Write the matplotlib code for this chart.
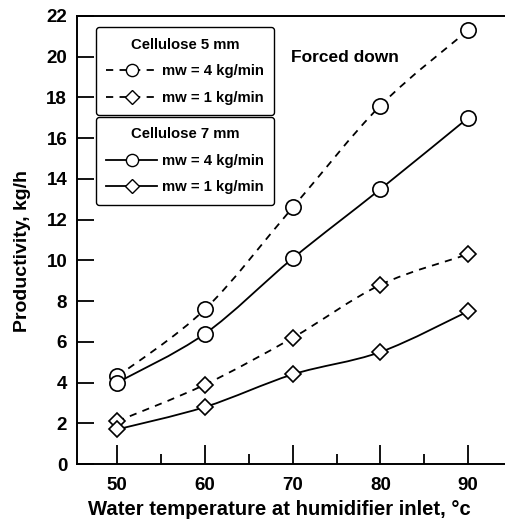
import numpy as np
import matplotlib.pyplot as plt
from matplotlib.path import Path
from matplotlib.patches import PathPatch
from matplotlib.lines import Line2D

plt.rcParams['font.family'] = ['Liberation Sans', 'DejaVu Sans']
plt.rcParams['font.weight'] = 'bold'

temperature = [50, 60, 70, 80, 90]
cel5_mw4 = [4.3, 7.6, 12.6, 17.6, 21.3]
cel5_mw1 = [2.1, 3.9, 6.2, 8.8, 10.3]
cel7_mw4 = [4.0, 6.4, 10.1, 13.5, 17.0]
cel7_mw1 = [1.7, 2.8, 4.4, 5.5, 7.5]


def smooth_path(x, y):
    # Catmull-Rom curve through the points, as cubic bezier segments
    pts = np.column_stack([x, y]).astype(float)
    verts = [pts[0]]
    codes = [Path.MOVETO]
    n = len(pts)
    for i in range(n - 1):
        p0 = pts[max(i - 1, 0)]
        p1 = pts[i]
        p2 = pts[i + 1]
        p3 = pts[min(i + 2, n - 1)]
        c1 = p1 + (p2 - p0) / 6.0
        c2 = p2 - (p3 - p1) / 6.0
        verts += [c1, c2, p2]
        codes += [Path.CURVE4] * 3
    return Path(verts, codes)


fig = plt.figure(figsize=(5.06, 5.24), dpi=100)
ax = fig.add_axes([0.152, 0.1145, 0.86, 0.855])

dash = (0, (4, 3.5))
series = [
    (cel5_mw4, dash, 'o', 11),
    (cel5_mw1, dash, 'D', 8.5),
    (cel7_mw4, '-', 'o', 11),
    (cel7_mw1, '-', 'D', 8.5),
]
handles = []
for vals, ls, mk, ms in series:
    ax.add_patch(PathPatch(smooth_path(temperature, vals), fill=False,
                           edgecolor='black', lw=1.3, linestyle=ls, zorder=2))
    ax.plot(temperature, vals, linestyle='none', marker=mk, ms=ms,
            mfc='white', mec='black', mew=1.2, zorder=3)
    handles.append(Line2D([], [], color='black', lw=1.3, linestyle=ls,
                          marker=mk, ms=ms * 0.8, mfc='white', mec='black', mew=1.0))

ax.set_xlim(45.4, 95.0)
ax.set_ylim(0, 22)
ax.set_xticks([50, 60, 70, 80, 90])
ax.set_xticks([55, 65, 75, 85], minor=True)
ax.set_yticks(range(0, 23, 2))
ax.tick_params(axis='x', which='major', direction='in', length=14, width=1.3,
               labelsize=13.5, pad=9)
ax.tick_params(axis='x', which='minor', direction='in', length=7, width=1.3)
ax.tick_params(axis='y', direction='in', length=12, width=1.3, labelsize=13.5, pad=7)
for lbl in ax.get_xticklabels() + ax.get_yticklabels():
    lbl.set_fontweight('bold')
ax.spines['right'].set_visible(False)
for s in ['left', 'bottom', 'top']:
    ax.spines[s].set_linewidth(1.4)

ax.set_xlabel('Water temperature at humidifier inlet, °c', fontsize=14.6,
              fontweight='bold')
ax.xaxis.set_label_coords(0.465, -0.080)
ax.set_ylabel('Productivity, kg/h', fontsize=14, fontweight='bold')
ax.yaxis.set_label_coords(-0.105, 0.475)

ax.text(0.492, 0.908, 'Forced down', transform=ax.transAxes, fontsize=12.5,
        fontweight='bold', ha='left', va='center')

leg_kw = dict(fontsize=10.7, frameon=True, fancybox=True, edgecolor='black',
              framealpha=1, handlelength=3.4, handletextpad=0.35,
              borderpad=0.7, labelspacing=0.85, borderaxespad=0,
              title_fontproperties={'weight': 'bold', 'size': 10.7})
leg1 = ax.legend(handles[:2], ['mw = 4 kg/min', 'mw = 1 kg/min'],
                 title='Cellulose 5 mm', loc='upper left',
                 bbox_to_anchor=(0.044, 0.975), **leg_kw)
ax.add_artist(leg1)
leg2 = ax.legend(handles[2:], ['mw = 4 kg/min', 'mw = 1 kg/min'],
                 title='Cellulose 7 mm', loc='upper left',
                 bbox_to_anchor=(0.044, 0.775), **leg_kw)
for leg in (leg1, leg2):
    leg.get_frame().set_linewidth(1.0)
    for t in leg.get_texts():
        t.set_fontweight('bold')

fig.savefig('out.png', dpi=100)
